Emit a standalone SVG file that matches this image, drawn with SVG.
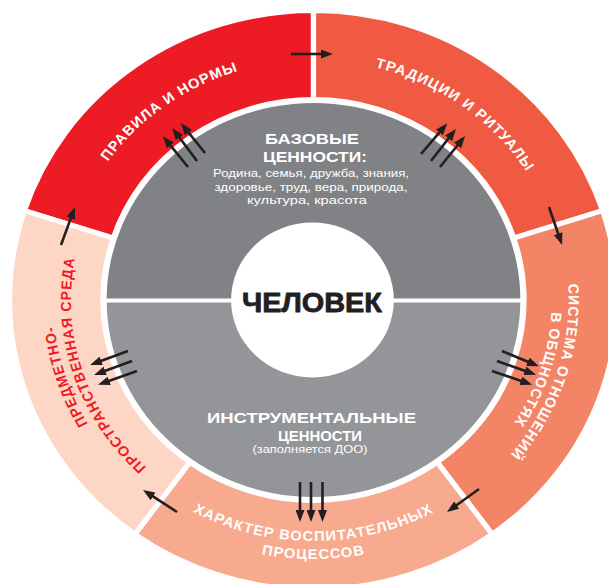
<svg xmlns="http://www.w3.org/2000/svg" width="608" height="584" viewBox="0 0 608 584">
<style>
.seg{stroke:#fff;stroke-width:5}
.rt{font-family:"Liberation Sans",Arial,sans-serif;font-weight:bold;font-size:14px;fill:#fff;letter-spacing:1px}
.ct{font-family:"Liberation Sans",Arial,sans-serif;font-weight:bold;fill:#fff;text-anchor:middle}
.cs{font-family:"Liberation Sans",Arial,sans-serif;fill:#fff;text-anchor:middle}
.ar{stroke:#231F20;stroke-width:2.6;fill:none;marker-end:url(#ah)}
</style>
<defs>
<marker id="ah" markerUnits="userSpaceOnUse" markerWidth="12" markerHeight="9" refX="2" refY="4.5" orient="auto">
<path d="M0,0 L12,4.5 L0,9 Z" fill="#231F20"/>
</marker>
<path id="pPrav" d="M -239.41 -16.74 A 240 240 0 0 1 58.06 -232.87"/>
<path id="pTrad" d="M -58.06 -232.87 A 240 240 0 0 1 239.41 -16.74"/>
<path id="pSys1" d="M 206.08 -128.77 A 243 243 0 0 1 91.03 225.30"/>
<path id="pSys2" d="M 192.51 -120.29 A 227 227 0 0 1 85.04 210.47"/>
<path id="pHar1" d="M -184.61 154.92 A 241 241 0 0 0 184.61 154.92"/>
<path id="pHar2" d="M -198.41 166.48 A 259 259 0 0 0 198.41 166.48"/>
<path id="pPr1" d="M -92.90 229.94 A 248 248 0 0 1 -210.32 -131.42"/>
<path id="pPr2" d="M -86.53 214.18 A 231 231 0 0 1 -195.90 -122.41"/>
</defs>
<rect width="608" height="584" fill="#fff"/>
<g transform="translate(313.5 300) scale(1.05 1)">
<g id="seg-pravila">
<path class="seg" fill="#ED1C24" d="M -275.33 -89.46 A 289.5 289.5 0 0 1 0 -289.5 L 0 -200.5 A 200.5 200.5 0 0 0 -190.69 -61.96 Z"/>
<text class="rt"><textPath href="#pPrav" startOffset="50%" text-anchor="middle">ПРАВИЛА И НОРМЫ</textPath></text>
</g>
<g id="seg-tradicii">
<path class="seg" fill="#F15A42" d="M 0 -289.5 A 289.5 289.5 0 0 1 275.33 -89.46 L 190.69 -61.96 A 200.5 200.5 0 0 0 0 -200.5 Z"/>
<text class="rt"><textPath href="#pTrad" startOffset="50%" text-anchor="middle">ТРАДИЦИИ И РИТУАЛЫ</textPath></text>
</g>
<g id="seg-sistema">
<path class="seg" fill="#F48466" d="M 275.33 -89.46 A 289.5 289.5 0 0 1 170.17 234.21 L 117.85 162.21 A 200.5 200.5 0 0 0 190.69 -61.96 Z"/>
<text class="rt"><textPath href="#pSys1" startOffset="50%" text-anchor="middle">СИСТЕМА ОТНОШЕНИЙ</textPath></text>
<text class="rt"><textPath href="#pSys2" startOffset="50%" text-anchor="middle">В ОБЩНОСТЯХ</textPath></text>
</g>
<g id="seg-harakter">
<path class="seg" fill="#F8AA8E" d="M 170.17 234.21 A 289.5 289.5 0 0 1 -170.17 234.21 L -117.85 162.21 A 200.5 200.5 0 0 0 117.85 162.21 Z"/>
<text class="rt"><textPath href="#pHar1" startOffset="50%" text-anchor="middle">ХАРАКТЕР ВОСПИТАТЕЛЬНЫХ</textPath></text>
<text class="rt"><textPath href="#pHar2" startOffset="50%" text-anchor="middle">ПРОЦЕССОВ</textPath></text>
</g>
<g id="seg-predmetno">
<path class="seg" fill="#FDD6C6" d="M -170.17 234.21 A 289.5 289.5 0 0 1 -275.33 -89.46 L -190.69 -61.96 A 200.5 200.5 0 0 0 -117.85 162.21 Z"/>
<text class="rt" style="fill:#ED1C24"><textPath href="#pPr1" startOffset="50%" text-anchor="middle">ПРЕДМЕТНО-</textPath></text>
<text class="rt" style="fill:#ED1C24"><textPath href="#pPr2" startOffset="50%" text-anchor="middle">ПРОСТРАНСТВЕННАЯ СРЕДА</textPath></text>
</g>
<g id="core">
<path fill="#818285" d="M -197 0 A 197 197 0 0 1 197 0 Z"/>
<path fill="#939598" d="M -197 0 A 197 197 0 0 0 197 0 Z"/>
<line x1="-200" y1="0.5" x2="200" y2="0.5" stroke="#fff" stroke-width="4"/>
<circle cx="-1" cy="0" r="77.5" fill="#fff"/>
</g>
</g>
<g id="basic-values">
<text class="ct" x="312" y="144" font-size="15" textLength="94" lengthAdjust="spacingAndGlyphs">БАЗОВЫЕ</text>
<text class="ct" x="315" y="162" font-size="15" textLength="104" lengthAdjust="spacingAndGlyphs">ЦЕННОСТИ:</text>
<text class="cs" x="311" y="177" font-size="11" textLength="196" lengthAdjust="spacingAndGlyphs">Родина, семья, дружба, знания,</text>
<text class="cs" x="311" y="191" font-size="11" textLength="193" lengthAdjust="spacingAndGlyphs">здоровье, труд, вера, природа,</text>
<text class="cs" x="307" y="204" font-size="11" textLength="120" lengthAdjust="spacingAndGlyphs">культура, красота</text>
</g>
<g id="human">
<text x="312" y="312" font-family="Liberation Sans,Arial,sans-serif" font-weight="bold" font-size="28" fill="#231F20" stroke="#231F20" stroke-width="0.8" text-anchor="middle" textLength="140" lengthAdjust="spacingAndGlyphs">ЧЕЛОВЕК</text>
</g>
<g id="instr-values">
<text class="ct" x="311.5" y="423" font-size="15" textLength="209" lengthAdjust="spacingAndGlyphs">ИНСТРУМЕНТАЛЬНЫЕ</text>
<text class="ct" x="320" y="441" font-size="15" textLength="84" lengthAdjust="spacingAndGlyphs">ЦЕННОСТИ</text>
<text class="cs" x="310" y="453" font-size="10" textLength="115" lengthAdjust="spacingAndGlyphs">(заполняется ДОО)</text>
</g>
<g id="connectors">
<line class="ar" x1="291" y1="54" x2="323" y2="54"/>
<line class="ar" x1="549" y1="207" x2="558.8" y2="235.5"/>
<line class="ar" x1="479" y1="489" x2="455.1" y2="506.2"/>
<line class="ar" x1="177" y1="512" x2="151.4" y2="495.4"/>
<line class="ar" x1="61" y1="245" x2="71.5" y2="216.4"/>
<line class="ar" x1="188" y1="167" x2="169.2" y2="143.9"/>
<line class="ar" x1="197" y1="161" x2="178.2" y2="135.9"/>
<line class="ar" x1="205" y1="153" x2="187.2" y2="130.9"/>
<line class="ar" x1="421" y1="154" x2="440.8" y2="130.8"/>
<line class="ar" x1="431" y1="161" x2="449.8" y2="136.8"/>
<line class="ar" x1="440" y1="167" x2="458.8" y2="143.8"/>
<line class="ar" x1="502" y1="351" x2="529.7" y2="362.5"/>
<line class="ar" x1="497" y1="361" x2="526.7" y2="371.5"/>
<line class="ar" x1="492" y1="371" x2="522.7" y2="381.5"/>
<line class="ar" x1="300" y1="482" x2="300" y2="512"/>
<line class="ar" x1="311" y1="482" x2="311" y2="512"/>
<line class="ar" x1="322.5" y1="482" x2="322.5" y2="512"/>
<line class="ar" x1="128" y1="351" x2="99.4" y2="361.5"/>
<line class="ar" x1="132" y1="361" x2="103.4" y2="371.5"/>
<line class="ar" x1="137" y1="371" x2="107.4" y2="381.5"/>
</g>
</svg>
